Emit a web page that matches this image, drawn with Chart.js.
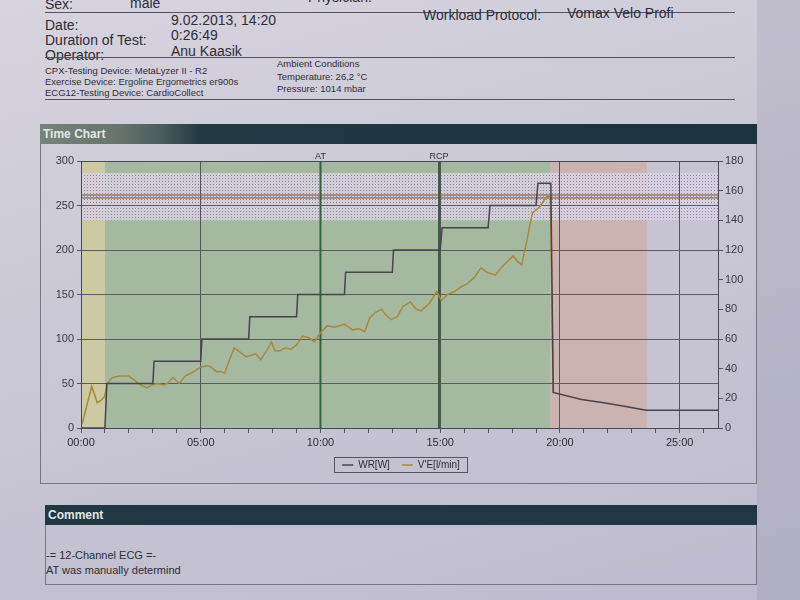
<!DOCTYPE html>
<html>
<head>
<meta charset="utf-8">
<script src="https://cdn.jsdelivr.net/npm/chart.js@4.4.1/dist/chart.umd.min.js"></script>
<style>
  body {
    margin: 0;
    width: 800px;
    height: 600px;
    overflow: hidden;
    position: relative;
    font-family: "Liberation Sans", Arial, sans-serif;
    color: #2e2c36;
    background: linear-gradient(165deg, #d7d4df 0%, #cac7d6 45%, #bdbbcd 100%);
  }
  .t { position: absolute; white-space: nowrap; }
  .big { font-size: 14px; line-height: 16px; }
  .small { font-size: 9.5px; line-height: 12px; }
  .rule { position: absolute; height: 1px; background: #55535e; }
  .edge { position: absolute; left: 757px; top: 0; width: 43px; height: 600px; background: rgba(120,120,145,0.18); }
  .bar { position: absolute; color: #e4e6e4; font-weight: bold; font-size: 12px; line-height: 20px; padding-left: 3px; box-sizing: border-box; }
  #chartBar { left: 40px; top: 124px; width: 717px; height: 20px;
    background: linear-gradient(90deg, #76837a 0, #66746c 80px, #4c5d5f 120px, #223942 160px, #1d3440 100%); }
  #commentBar { left: 45px; top: 505px; width: 712px; height: 20px; background: #213843; }
  .panel { position: absolute; border: 1px solid #77757f; border-top: none; box-sizing: border-box; }
  #chartWrap { position: absolute; left: 47px; top: 144px; width: 708px; height: 340px; }
</style>
</head>
<body>
<div class="edge"></div>

<div class="t big" style="left:45px;top:-4px">Sex:</div>
<div class="t big" style="left:130px;top:-5px">male</div>
<div class="t big" style="left:308px;top:-11px">Physician:</div>
<div class="rule" style="left:45px;top:12px;width:690px"></div>

<div class="t big" style="left:45px;top:17px">Date:</div>
<div class="t big" style="left:171px;top:12px">9.02.2013, 14:20</div>
<div class="t big" style="left:423px;top:7px">Workload Protocol:</div>
<div class="t big" style="left:567px;top:5px">Vomax Velo Profi</div>
<div class="t big" style="left:45px;top:32px">Duration of Test:</div>
<div class="t big" style="left:171px;top:27px">0:26:49</div>
<div class="t big" style="left:45px;top:47px">Operator:</div>
<div class="t big" style="left:171px;top:43px">Anu Kaasik</div>
<div class="rule" style="left:45px;top:57px;width:690px"></div>

<div class="t small" style="left:45px;top:65px">CPX-Testing Device: MetaLyzer II - R2</div>
<div class="t small" style="left:45px;top:76px">Exercise Device: Ergoline Ergometrics er900s</div>
<div class="t small" style="left:45px;top:87px">ECG12-Testing Device: CardioCollect</div>
<div class="t small" style="left:277px;top:58px">Ambient Conditions</div>
<div class="t small" style="left:277px;top:71px">Temperature: 26,2 °C</div>
<div class="t small" style="left:277px;top:83px">Pressure: 1014 mbar</div>
<div class="rule" style="left:45px;top:99px;width:690px"></div>

<div class="bar" id="chartBar">Time Chart</div>
<div class="panel" style="left:40px;top:144px;width:717px;height:340px"></div>
<div id="chartWrap"><canvas id="chart" width="708" height="340"></canvas></div>

<div class="bar" id="commentBar">Comment</div>
<div class="panel" style="left:45px;top:525px;width:712px;height:60px"></div>
<div class="t" style="left:46px;top:549px;font-size:11px">-= 12-Channel ECG =-</div>
<div class="t" style="left:46px;top:564px;font-size:11px">AT was manually determind</div>

<script>
'use strict';

// work rate, watts (left axis) - time in minutes
let wrTime  = [0, 1.0, 1.08, 3.0, 3.05, 5.0, 5.05, 7.0, 7.05, 9.0, 9.05, 11.0, 11.05, 13.0, 13.05, 15.0, 15.08, 17.0, 17.08, 19.0, 19.08, 19.62, 19.72, 20.9, 21.9, 22.8, 23.6, 26.6];
let wrWatts = [0, 0,   50,   50,  75,   75,  100,  100, 125,  125, 150,  150,  175,   175,  200,   200,  225,   225,  250,   250,  275,   275,   40,    32,   28,   24,   20,   20];

// minute ventilation, l/min (right axis)
let veTime = [0, 0.05, 0.45, 0.68, 0.85, 0.98, 1.1, 1.3, 1.6, 2.0, 2.25, 2.5, 2.75, 2.95, 3.2, 3.45, 3.6, 3.85, 4.1, 4.35, 4.7, 5.0, 5.25, 5.45, 5.65, 5.85, 6.0,
  6.2, 6.4, 6.65, 6.9, 7.1, 7.3, 7.5, 7.75, 7.95, 8.1, 8.3, 8.55, 8.75, 9.0, 9.25, 9.5, 9.75, 9.95, 10.1, 10.3, 10.6, 11.0, 11.35, 11.6, 11.85,
  12.05, 12.3, 12.55, 12.75, 12.95, 13.2, 13.45, 13.75, 14.0, 14.2, 14.55, 14.85, 15.05, 15.3, 15.6, 15.85, 16.1, 16.4, 16.7, 16.95, 17.3, 17.6,
  18.05, 18.25, 18.4, 18.6, 18.85, 19.15, 19.45, 19.6, 19.72];
let veLitres = [3, 3, 28, 17, 19, 21, 30, 34, 35, 35, 32, 29, 27, 29, 30, 29, 30, 34, 30, 35, 38, 41, 42, 41, 38, 38, 37,
  46, 54, 51, 48, 49, 50, 46, 52, 58, 52, 52, 54, 53, 56, 62, 61, 58, 63, 66, 69, 68, 70, 66, 67, 65,
  74, 78, 80, 76, 73, 75, 82, 85, 80, 79, 84, 92, 86, 90, 92, 95, 97, 101, 108, 105, 103, 109,
  116, 112, 110, 125, 145, 149, 156, 156, 24];

// test phases (minutes): warm-up, load, recovery, after
let phaseStart = [0, 1.0, 19.6, 23.65];
let phaseEnd   = [1.0, 19.6, 23.65, 26.6];

// markers
let markerTimes  = [10.0, 14.95];
let markerLabels = ['AT', 'RCP'];

// zone band and reference line on the right axis
let zoneBand = [140, 172];
let refLine = 156;

let xTicks = [0, 5, 10, 15, 20, 25];

let phaseColors = ['#cdc9a2', '#a5b9a1', '#cdb3af', '#c6c4d3'];

function pts(xs, ys) {
  return xs.map(function(x, i) { return { x: x, y: ys[i] }; });
}

function mmss(v) {
  return (v < 10 ? '0' : '') + v + ':00';
}

// dotted pattern for the zone band
function dotPattern(ctx) {
  let c = document.createElement('canvas');
  c.width = 3; c.height = 3;
  let p = c.getContext('2d');
  p.fillStyle = 'rgba(216,208,228,0.84)';
  p.fillRect(0, 0, 3, 3);
  p.fillStyle = 'rgba(70,68,90,0.5)';
  p.fillRect(1, 1, 1, 1);
  return ctx.createPattern(c, 'repeat');
}

let backdrop = {
  id: 'backdrop',
  beforeDraw: function(chart) {
    let ctx = chart.ctx, a = chart.chartArea;
    let x = chart.scales.x, y1 = chart.scales.y1;
    ctx.save();
    phaseStart.forEach(function(s, i) {
      let l = x.getPixelForValue(s), r = x.getPixelForValue(phaseEnd[i]);
      ctx.fillStyle = phaseColors[i];
      ctx.fillRect(l, a.top, r - l, a.bottom - a.top);
    });
    let top = y1.getPixelForValue(zoneBand[1]), bot = y1.getPixelForValue(zoneBand[0]);
    ctx.fillStyle = dotPattern(ctx);
    ctx.fillRect(a.left, top, a.right - a.left, bot - top);
    ctx.restore();
  },
  beforeDatasetsDraw: function(chart) {
    let ctx = chart.ctx, a = chart.chartArea;
    let x = chart.scales.x, y1 = chart.scales.y1;
    ctx.save();
    // reference line
    let ry = y1.getPixelForValue(refLine);
    ctx.strokeStyle = 'rgba(140,105,90,0.85)';
    ctx.lineWidth = 1.5;
    ctx.beginPath();
    ctx.moveTo(a.left, ry - 1.5); ctx.lineTo(a.right, ry - 1.5);
    ctx.moveTo(a.left, ry + 1.5); ctx.lineTo(a.right, ry + 1.5);
    ctx.stroke();
    // AT / RCP
    ctx.strokeStyle = '#35613f';
    ctx.lineWidth = 2;
    ctx.fillStyle = '#2e2c36';
    ctx.font = '9px "Liberation Sans", Arial';
    ctx.textAlign = 'center';
    markerTimes.forEach(function(t, i) {
      let px = x.getPixelForValue(t);
      ctx.beginPath();
      ctx.moveTo(px, a.top); ctx.lineTo(px, a.bottom);
      ctx.stroke();
      ctx.fillText(markerLabels[i], px, a.top - 4);
    });
    ctx.restore();
  },
  afterDraw: function(chart) {
    let ctx = chart.ctx, a = chart.chartArea;
    ctx.save();
    ctx.strokeStyle = '#4a4852';
    ctx.lineWidth = 1;
    ctx.strokeRect(a.left + 0.5, a.top + 0.5, a.right - a.left, a.bottom - a.top);
    // box round the legend
    let hb = chart.legend.legendHitBoxes;
    if (hb && hb.length) {
      let l = hb[0].left - 8, last = hb[hb.length - 1];
      let r = last.left + last.width + 7;
      ctx.strokeStyle = '#55535e';
      ctx.strokeRect(Math.round(l) + 0.5, Math.round(hb[0].top - 3) + 0.5, Math.round(r - l), Math.round(hb[0].height + 5));
    }
    ctx.restore();
  }
};

let ctx = document.getElementById('chart');

new Chart(ctx, {
  type: 'line',
  data: {
    datasets: [{
      label: 'WR[W]',
      data: pts(wrTime, wrWatts),
      yAxisID: 'y',
      borderColor: '#48424f',
      borderWidth: 1.5,
      pointRadius: 0,
      tension: 0
    },
    {
      label: "V'E[l/min]",
      data: pts(veTime, veLitres),
      yAxisID: 'y1',
      borderColor: '#a9883b',
      borderWidth: 1.5,
      pointRadius: 0,
      tension: 0
    }]
  },
  options: {
    responsive: false,
    animation: false,
    devicePixelRatio: 1,
    layout: { padding: { top: 17, bottom: 4 } },
    plugins: {
      tooltip: { enabled: false },
      legend: {
        position: 'bottom',
        labels: {
          usePointStyle: true,
          pointStyle: 'line',
          pointStyleWidth: 11,
          boxHeight: 8,
          padding: 12,
          color: '#2e2c36',
          font: { size: 10, family: '"Liberation Sans", Arial' }
        }
      }
    },
    scales: {
      x: {
        type: 'linear',
        min: 0,
        max: 26.6,
        afterFit: function(s) { s.height = 20; },
        ticks: {
          stepSize: 1,
          autoSkip: false,
          includeBounds: false,
          maxRotation: 0,
          padding: 3,
          color: '#2e2c36',
          font: { size: 11, family: '"Liberation Sans", Arial' },
          callback: function(v) { return xTicks.indexOf(v) >= 0 ? mmss(v) : ''; }
        },
        grid: {
          color: function(c) { return (c.tick && c.tick.value % 5 === 0 && c.tick.value > 0) ? '#55535e' : 'rgba(0,0,0,0)'; },
          tickColor: '#55535e',
          tickLength: 5
        },
        border: { color: '#4a4852' }
      },
      y: {
        position: 'left',
        min: 0,
        max: 300,
        afterFit: function(s) { s.width = 34; },
        ticks: {
          stepSize: 50,
          padding: 3,
          color: '#3a3842',
          font: { size: 11, family: '"Liberation Sans", Arial' }
        },
        grid: {
          color: function(c) { return (c.tick && c.tick.value > 0 && c.tick.value < 300) ? '#5c5a65' : 'rgba(0,0,0,0)'; },
          tickColor: '#55535e',
          tickLength: 4
        },
        border: { color: '#4a4852' }
      },
      y1: {
        position: 'right',
        min: 0,
        max: 180,
        afterFit: function(s) { s.width = 37; },
        ticks: {
          stepSize: 20,
          padding: 2,
          color: '#3a3842',
          font: { size: 11, family: '"Liberation Sans", Arial' }
        },
        grid: { drawOnChartArea: false, tickColor: '#55535e', tickLength: 5 },
        border: { color: '#4a4852' }
      }
    }
  },
  plugins: [backdrop]
});
</script>
</body>
</html>
